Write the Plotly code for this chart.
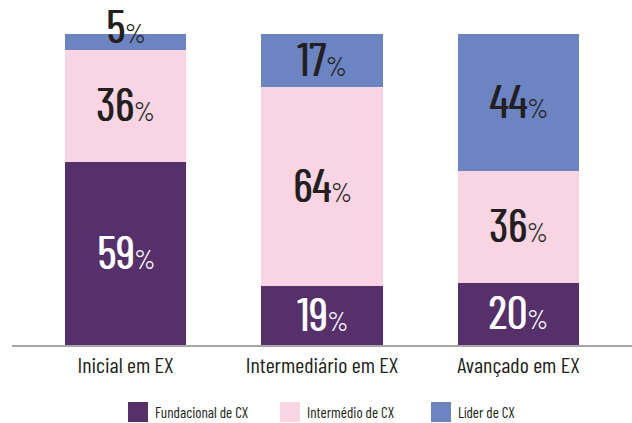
import plotly.graph_objects as go

# Data
categories = ["Inicial em EX", "Intermediário em EX", "Avançado em EX"]
series_names = ["Fundacional de CX", "Intermédio de CX", "Líder de CX"]
fundacional = [59, 19, 20]
intermedio = [36, 64, 36]
lider = [5, 17, 44]
series_values = [fundacional, intermedio, lider]

colors = ["#55306A", "#F9D5E3", "#6D84C3"]
label_colors = ["#FFFFFF", "#231F20", "#231F20"]

FONT = "Barlow Condensed, Roboto Condensed, Liberation Sans Narrow, DejaVu Sans Condensed, Roboto, sans-serif"

fig = go.Figure()
for name, vals, col in zip(series_names, series_values, colors):
    fig.add_trace(go.Bar(
        x=categories, y=vals, name=name, marker=dict(color=col, line=dict(width=0)),
        width=0.616, showlegend=False, hoverinfo="skip",
    ))

# Value labels centred on each stacked segment
annotations = []
for ci, cat in enumerate(categories):
    base = 0
    for si, vals in enumerate(series_values):
        v = vals[ci]
        mid = base + v / 2
        shift = 0
        if v < 8:
            shift = 14
        tc = label_colors[si]
        annotations.append(dict(
            x=cat, y=mid, xref="x", yref="y", showarrow=False,
            text=f"{v}<span style='font-size:27px;text-shadow:none'>%</span>",
            font=dict(family=FONT, size=46, color=tc, weight=400,
                      shadow=f"1px 0 0 {tc}"),
            yshift=shift + 3, xanchor="center", yanchor="middle",
        ))
        base += v

# Legend drawn as swatches + labels below the axis
PL, PW, PB, PH = 12, 620, 345, 311
def px_x(p):
    return (p - PL) / PW
def px_y(p):
    return (PB - p) / PH

shapes = []
swatch_left = [128, 280, 431]
for name, col, sx in zip(series_names, colors, swatch_left):
    shapes.append(dict(type="rect", xref="paper", yref="paper",
                       x0=px_x(sx), x1=px_x(sx + 20), y0=px_y(422), y1=px_y(402),
                       fillcolor=col, line=dict(width=0)))
    annotations.append(dict(x=px_x(sx + 25), y=px_y(412), xref="paper", yref="paper",
                            showarrow=False, text=name, xanchor="left", yanchor="middle",
                            font=dict(family=FONT, size=15, color="#231F20")))

fig.update_layout(
    barmode="stack",
    width=632, height=423,
    margin=dict(l=12, r=0, t=34, b=78),
    paper_bgcolor="white", plot_bgcolor="white",
    annotations=annotations, shapes=shapes,
    font=dict(family=FONT, color="#231F20"),
    xaxis=dict(range=[-0.578, 2.578], showline=True, linecolor="#A6A6A6", linewidth=2,
               ticks="", tickfont=dict(family=FONT, size=22, color="#231F20"),
               showgrid=False, zeroline=False, fixedrange=True),
    yaxis=dict(range=[0, 100], visible=False, showgrid=False, zeroline=False, fixedrange=True),
)

fig.write_html("out.html")
